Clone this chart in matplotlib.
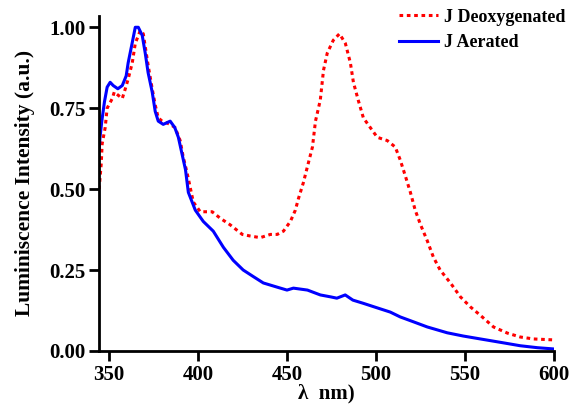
import numpy as np
import matplotlib.pyplot as plt

# J Deoxygenated (red, dotted)
wl_deox = [344.5, 345.7, 346.2, 347.9, 349.0, 351.9, 353.0, 355.2, 357.5, 359.2, 360.8,
           363.1, 364.8, 367.6, 369.3, 370.4, 372.1, 374.3, 376.0, 377.7, 379.9, 384.4,
           387.2, 390.0, 391.7, 393.9, 397.4, 401.3, 408.0, 412.5, 418.0, 424.9, 429.4,
           435.0, 440.7, 444.5, 448.0, 451.9, 454.7, 456.4, 459.2, 461.5, 464.3, 466.0,
           468.7, 470.5, 472.6, 476.0, 479.5, 482.8, 485.6, 487.3, 490.0, 492.9, 496.8,
           500.7, 506.3, 510.8, 513.6, 516.5, 519.3, 522.0, 525.0, 528.8, 532.2, 536.0,
           541.8, 547.4, 553.0, 558.6, 566.0, 573.8, 581.0, 588.4, 600.0]
int_deox = [0.50, 0.58, 0.64, 0.69, 0.75, 0.78, 0.80, 0.79, 0.78, 0.81, 0.84,
            0.89, 0.95, 0.99, 0.98, 0.94, 0.88, 0.81, 0.76, 0.72, 0.71, 0.70,
            0.69, 0.65, 0.60, 0.55, 0.46, 0.43, 0.43, 0.41, 0.39, 0.36, 0.355,
            0.35, 0.36, 0.36, 0.37, 0.40, 0.435, 0.47, 0.52, 0.57, 0.63, 0.71,
            0.775, 0.867, 0.92, 0.96, 0.98, 0.95, 0.89, 0.83, 0.775, 0.72, 0.69,
            0.66, 0.65, 0.63, 0.59, 0.54, 0.49, 0.435, 0.39, 0.34, 0.29, 0.25,
            0.21, 0.167, 0.136, 0.11, 0.074, 0.055, 0.043, 0.037, 0.034]

# J Aerated (blue, solid)
wl_aer = [344.5, 345.0, 346.0, 347.5, 349.0, 350.7, 352.4, 355.0, 357.5, 359.7, 360.8,
          363.0, 364.8, 366.5, 368.7, 370.4, 372.0, 374.3, 376.0, 377.7, 380.5, 384.4,
          387.0, 389.0, 391.0, 393.0, 394.6, 398.5, 403.0, 408.6, 414.3, 419.8, 425.4,
          431.0, 436.7, 444.5, 450.0, 453.6, 461.5, 468.7, 474.5, 478.0, 482.7, 487.0,
          492.9, 500.7, 508.0, 513.6, 521.0, 528.8, 534.4, 540.0, 549.0, 558.6, 571.5,
          581.0, 590.6, 600.0]
int_aer = [0.62, 0.66, 0.71, 0.77, 0.815, 0.83, 0.82, 0.81, 0.82, 0.85, 0.89,
           0.95, 1.00, 1.00, 0.975, 0.92, 0.86, 0.80, 0.74, 0.71, 0.70, 0.71,
           0.69, 0.66, 0.61, 0.56, 0.49, 0.435, 0.40, 0.37, 0.32, 0.28, 0.25,
           0.23, 0.21, 0.197, 0.188, 0.194, 0.188, 0.173, 0.167, 0.163, 0.173, 0.157,
           0.147, 0.133, 0.12, 0.105, 0.09, 0.074, 0.065, 0.056, 0.046, 0.037, 0.025,
           0.016, 0.01, 0.006]

x_ticks = [350, 400, 450, 500, 550, 600]
y_ticks = [0.00, 0.25, 0.50, 0.75, 1.00]

plt.rcParams['font.family'] = ['Liberation Serif', 'DejaVu Serif']
plt.rcParams['font.weight'] = 'bold'

fig = plt.figure(figsize=(5.73, 4.09), dpi=100)
ax = fig.add_axes([0.173, 0.142, 0.794, 0.819])

ax.plot(wl_deox, int_deox, color='red', lw=2.2, ls=(0, (1.2, 1.2)), label='J Deoxygenated')
ax.plot(wl_aer, int_aer, color='blue', lw=2.2, label='J Aerated')

ax.set_xlim(344.5, 600)
ax.set_ylim(0, 1.035)
ax.set_xticks(x_ticks)
ax.set_yticks(y_ticks)
ax.set_yticklabels([f'{v:.2f}' for v in y_ticks])

for s in ['top', 'right']:
    ax.spines[s].set_visible(False)
for s in ['left', 'bottom']:
    ax.spines[s].set_linewidth(2)
ax.tick_params(direction='out', length=7, width=2, labelsize=15, pad=3)
for lab in ax.get_xticklabels() + ax.get_yticklabels():
    lab.set_fontweight('bold')

ax.set_xlabel('λ  nm)', fontsize=15, fontweight='bold', labelpad=-1)
ax.set_ylabel('Luminiscence Intensity (a.u.)', fontsize=15.5, fontweight='bold', labelpad=10)

ax.legend(loc='upper right', bbox_to_anchor=(1.06, 1.07), frameon=False,
          handlelength=2.2, handletextpad=0.3, labelspacing=0.45,
          prop={'weight': 'bold', 'size': 13})

fig.savefig('out.png', dpi=100)
